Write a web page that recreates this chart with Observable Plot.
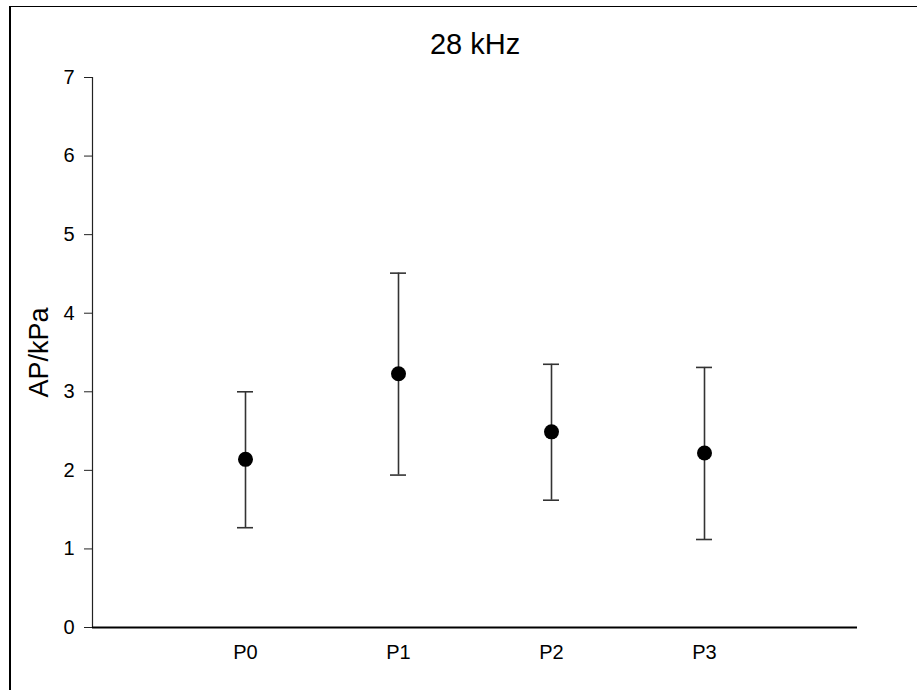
<!DOCTYPE html>
<html>
<head>
<meta charset="utf-8">
<script src="https://cdn.jsdelivr.net/npm/d3@7"></script>
<script src="https://cdn.jsdelivr.net/npm/@observablehq/plot@0.6"></script>
<style>
  html, body { margin: 0; padding: 0; background: #fff; }
  #wrap { position: relative; width: 917px; height: 690px; overflow: hidden; }
  #frame { position: absolute; left: 9px; top: 6px; width: 2000px; height: 2000px;
           border-left: 2px solid #000; border-top: 1.5px solid #000; pointer-events: none; }
</style>
</head>
<body>
<div id="wrap"><div id="frame"></div></div>
<script>
const title = "28 kHz";
const yLabel = "AP/kPa";
const categories = ["P0", "P1", "P2", "P3"];
const means = [2.14, 3.23, 2.49, 2.22];
const lower = [1.27, 1.94, 1.62, 1.12];
const upper = [3.00, 4.51, 3.35, 3.31];
const yTicks = [0, 1, 2, 3, 4, 5, 6, 7];

const data = categories.map((c, i) => ({
  cat: c, mean: means[i], lo: lower[i], hi: upper[i]
}));

const chart = Plot.plot({
  width: 917,
  height: 690,
  marginLeft: 92,
  marginRight: 60,
  marginTop: 77,
  marginBottom: 63,
  style: { fontFamily: "Liberation Sans, Arial, sans-serif", fontSize: "20px", background: "transparent", color: "#000" },
  x: { type: "band", domain: categories, paddingInner: 0.8954, paddingOuter: 0.9477, align: 0.5 },
  y: { domain: [0, 7] },
  marks: [
    Plot.axisY({
      ticks: yTicks, tickSize: 8, tickPadding: 10, tickFormat: d3.format("d"), fontSize: 20,
      label: null, stroke: "#222", fill: "#000"
    }),
    Plot.axisX({
      tickSize: 0, tickPadding: 17, label: null, fontSize: 20, fill: "#000"
    }),
    Plot.frame({ anchor: "left", stroke: "#222", strokeWidth: 1.2 }),
    Plot.ruleY([0], { stroke: "#000", strokeWidth: 2.2 }),
    Plot.ruleX(data, { x: "cat", y1: "lo", y2: "hi", stroke: "#333", strokeWidth: 1.6 }),
    Plot.tickY(data, { x: "cat", y: "hi", stroke: "#333", strokeWidth: 1.6 }),
    Plot.tickY(data, { x: "cat", y: "lo", stroke: "#333", strokeWidth: 1.6 }),
    Plot.dot(data, { x: "cat", y: "mean", r: 7.5, fill: "#000", stroke: "none" }),
    Plot.text([title], { frameAnchor: "top", lineAnchor: "middle", dy: -33, fontSize: 29, fill: "#000" }),
    Plot.text([yLabel], { frameAnchor: "left", rotate: -90, textAnchor: "middle", lineAnchor: "middle", dx: -53, dy: 0, fontSize: 27, fill: "#000" })
  ]
});
document.getElementById("wrap").appendChild(chart);
</script>
</body>
</html>
